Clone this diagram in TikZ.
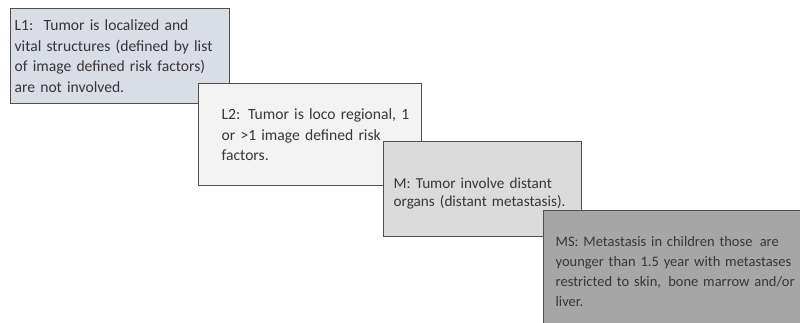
\documentclass[tikz,border=0pt]{standalone}
\usepackage{fontspec}
\setmainfont{Carlito}
\definecolor{txt}{HTML}{3A3536}
\definecolor{edge}{HTML}{505050}
\definecolor{fillA}{HTML}{D8DDE6}
\definecolor{fillB}{HTML}{F3F3F3}
\definecolor{fillC}{HTML}{DBDBDB}
\definecolor{fillD}{HTML}{A6A6A6}
\tikzset{
  stagebox/.style={draw=edge, line width=1.3pt, rectangle, anchor=north west,
    align=left, text=txt, inner ysep=0pt},
  bigtext/.style={font=\fontsize{15.6}{20.5}\selectfont},
  midtext/.style={font=\fontsize{15.2}{18.5}\selectfont},
  smalltext/.style={font=\fontsize{14.5}{20}\selectfont}
}
\begin{document}
\begin{tikzpicture}[x=1pt,y=-1pt]
\useasboundingbox (0,0) rectangle (800,323);
\clip (0,0) rectangle (800,323);
\fill[white] (0,0) rectangle (800,323);
% L1
\node[stagebox, bigtext, fill=fillA, minimum width=219pt, minimum height=95pt,
  inner xsep=4pt, text width=211pt] (l1) at (10,8)
  {\mbox{L1:\, Tumor is localized and}\\\mbox{vital structures (defined by list}\\\mbox{of image defined risk factors)}\\\mbox{are not involved.}};
% L2
\node[stagebox, bigtext, fill=fillB, minimum width=223pt, minimum height=102pt,
  inner xsep=23pt, text width=177pt] (l2) at (198,83)
  {\mbox{L2: Tumor is loco regional, 1}\\\mbox{or {>}1 image defined risk}\\\mbox{factors.}\\[12pt]};
% M
\node[stagebox, midtext, fill=fillC, minimum width=198pt, minimum height=95pt,
  inner xsep=10pt, text width=178pt] (m) at (383,141)
  {\rule{0pt}{19pt}\mbox{M: Tumor involve distant}\\\mbox{organs (distant metastasis).}};
% MS
\node[stagebox, smalltext, fill=fillD, minimum width=280pt, minimum height=122pt,
  inner xsep=12pt, text width=256pt] (ms) at (543,210)
  {\mbox{MS: Metastasis in children those\, are}\\\mbox{younger than 1.5 year with metastases}\\\mbox{restricted to skin,\, bone marrow and/or}\\\mbox{liver.}};
\end{tikzpicture}
\end{document}
